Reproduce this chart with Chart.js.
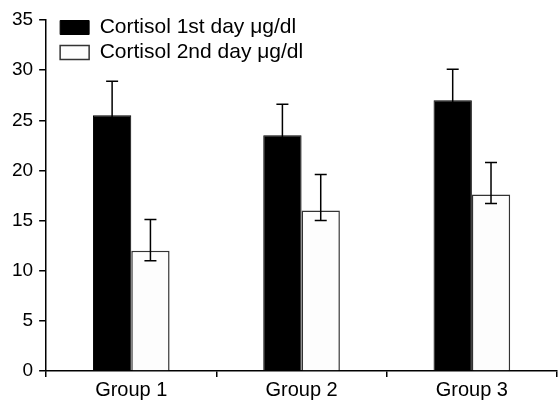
<!DOCTYPE html>
<html>
<head>
<meta charset="utf-8">
<script src="https://cdn.jsdelivr.net/npm/chart.js@4/dist/chart.umd.min.js"></script>
<style>
  html, body { margin: 0; padding: 0; background: #fff; }
  #wrap { width: 560px; height: 403px; }
</style>
</head>
<body>
<div id="wrap"><canvas id="cortisolChart"></canvas></div>
<script>
var groups = ['Group 1', 'Group 2', 'Group 3'];
var day1Values = [25.5, 23.5, 27.0];
var day1ErrHigh = [28.9, 26.6, 30.1];
var day1ErrLow = [22.1, 20.4, 23.9];
var day2Values = [12.0, 16.0, 17.6];
var day2ErrHigh = [15.1, 19.6, 20.8];
var day2ErrLow = [11.0, 15.0, 16.7];
var yTicks = [0, 5, 10, 15, 20, 25, 30, 35];

var fontFam = 'Liberation Sans, Arial, sans-serif';

// error bars drawn on top of the bars
var errorBarPlugin = {
    id: 'errorBars',
    afterDatasetsDraw: function (chart) {
        var ctx = chart.ctx;
        var yScale = chart.scales.y;
        chart.data.datasets.forEach(function (ds, di) {
            var meta = chart.getDatasetMeta(di);
            meta.data.forEach(function (bar, i) {
                var x = bar.x;
                var yHi = yScale.getPixelForValue(ds.errHigh[i]);
                var yLo = yScale.getPixelForValue(ds.errLow[i]);
                var cap = 6;
                ctx.save();
                ctx.strokeStyle = '#000';
                ctx.lineWidth = 1.5;
                ctx.beginPath();
                ctx.moveTo(x, yHi); ctx.lineTo(x, yLo);
                ctx.moveTo(x - cap, yHi); ctx.lineTo(x + cap, yHi);
                ctx.moveTo(x - cap, yLo); ctx.lineTo(x + cap, yLo);
                ctx.stroke();
                ctx.restore();
            });
        });
    }
};

// nudge the in-plot legend a bit away from the axes
var legendNudge = {
    id: 'legendNudge',
    afterLayout: function (chart) {
        if (chart.legend) {
            chart.legend.left += 10;
            chart.legend.top = chart.chartArea.top - 7;
        }
    }
};

var ctx = document.getElementById('cortisolChart').getContext('2d');
var myBarChart = new Chart(ctx, {
    type: 'bar',
    data: {
        labels: groups,
        datasets: [
            {
                label: 'Cortisol 1st day \u03bcg/dl',
                data: day1Values,
                errHigh: day1ErrHigh,
                errLow: day1ErrLow,
                backgroundColor: '#000',
                borderColor: '#000',
                borderWidth: 1
            },
            {
                label: 'Cortisol 2nd day \u03bcg/dl',
                data: day2Values,
                errHigh: day2ErrHigh,
                errLow: day2ErrLow,
                backgroundColor: '#fdfdfd',
                borderColor: '#333',
                borderWidth: 1.5
            }
        ]
    },
    options: {
        responsive: true,
        maintainAspectRatio: false,
        animation: false,
        layout: { padding: { top: 20, right: 3, left: 6, bottom: 0 } },
        categoryPercentage: 0.45,
        barPercentage: 1.0,
        plugins: {
            legend: {
                position: 'chartArea',
                align: 'start',
                labels: {
                    color: '#000',
                    boxWidth: 29,
                    boxHeight: 14,
                    padding: 4,
                    font: { family: fontFam, size: 21 }
                }
            },
            tooltip: { enabled: false }
        },
        scales: {
            x: {
                grid: { offset: true, drawOnChartArea: false, tickLength: 6, color: '#000', lineWidth: 1.5 },
                border: { color: '#000', width: 1.5 },
                ticks: { color: '#000', padding: 1, font: { family: fontFam, size: 20 } }
            },
            y: {
                min: 0,
                max: 35,
                afterBuildTicks: function (axis) {
                    axis.ticks = yTicks.map(function (v) { return { value: v }; });
                },
                grid: { drawOnChartArea: false, tickLength: 7, color: '#000', lineWidth: 1.5 },
                border: { color: '#000', width: 1.5 },
                ticks: { color: '#000', padding: 6, font: { family: fontFam, size: 19 } }
            }
        }
    },
    plugins: [errorBarPlugin, legendNudge]
});
</script>
</body>
</html>
